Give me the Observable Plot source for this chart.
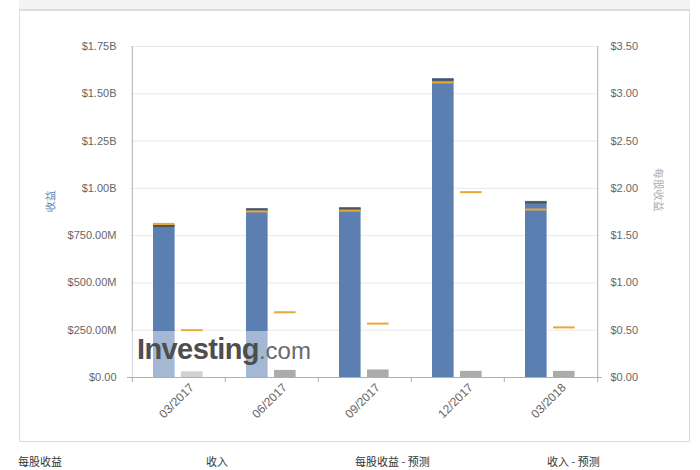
<!DOCTYPE html>
<html><head><meta charset="utf-8">
<script src="https://cdn.jsdelivr.net/npm/d3@7"></script>
<script src="https://cdn.jsdelivr.net/npm/@observablehq/plot@0.6"></script>
<style>
html,body{margin:0;padding:0;background:#fff;}
#wrap{position:relative;width:700px;height:470px;overflow:hidden;font-family:"Liberation Sans",Arial,sans-serif;}
#header{position:absolute;left:19px;top:0;width:671px;height:9px;background:#f3f3f3;border-bottom:2px solid #dcdcdc;}
#frame{position:absolute;left:19px;top:10px;width:669px;height:431px;border:1px solid #dcdcdc;border-top:none;}
#chart{position:absolute;left:0;top:0;}
#wm{position:absolute;left:128px;top:331px;width:142px;height:46px;background:rgba(255,255,255,0.45);}
#wmtext{position:absolute;left:137px;top:333px;white-space:nowrap;}
#wmtext .a{font:bold 29px "Liberation Sans",Arial,sans-serif;color:#4e4e4e;letter-spacing:-0.6px;}
#wmtext .b{font:24px "Liberation Sans",Arial,sans-serif;color:#6a6a6a;}
.leg{position:absolute;top:454px;font-size:11px;line-height:14px;color:#333;font-family:"Noto Sans CJK SC",sans-serif;}
</style></head>
<body><div id="wrap">
<div id="header"></div><div id="frame"></div>
<div id="chart"></div>
<div id="wm"></div>
<div id="wmtext"><span class="a">Investing</span><span class="b">.com</span></div>
</div>
<script>
const quarters = ["03/2017","06/2017","09/2017","12/2017","03/2018"];
const revenueActual = [0.806e9, 0.893e9, 0.898e9, 1.580e9, 0.931e9];
const revenueForecast = [0.812e9, 0.878e9, 0.882e9, 1.560e9, 0.888e9];
const epsActual = [0.06, 0.075, 0.08, 0.065, 0.065];
const epsForecast = [0.50, 0.69, 0.57, 1.96, 0.53];
const revTicks = [0, 0.25e9, 0.5e9, 0.75e9, 1.0e9, 1.25e9, 1.5e9, 1.75e9];
const revTickLabels = ["$0.00","$250.00M","$500.00M","$750.00M","$1.00B","$1.25B","$1.50B","$1.75B"];
const epsTickLabels = ["$0.00","$0.50","$1.00","$1.50","$2.00","$2.50","$3.00","$3.50"];
const legendLabels = ["每股收益","收入","每股收益 - 预测","收入 - 预测"];
const leftTitle = "收益";
const rightTitle = "每股收益";

const epsToRev = 1.75e9 / 3.5;
const rows = quarters.map((q, i) => ({q, ra: revenueActual[i], rf: revenueForecast[i], ea: epsActual[i] * epsToRev, ef: epsForecast[i] * epsToRev}));

const W = 700, H = 470, ML = 131, MR = 102, MT = 46, MB = 93;
const bw = (W - ML - MR) / quarters.length;
const axisCol = "#a7b0bc";
const txt = "#666";

const chart = Plot.plot({
  width: W, height: H,
  marginLeft: ML, marginRight: MR, marginTop: MT, marginBottom: MB,
  style: {fontFamily: "'Liberation Sans', Arial, sans-serif", fontSize: "11px", background: "transparent"},
  x: {type: "band", domain: quarters, padding: 0},
  y: {domain: [0, 1.75e9]},
  marks: [
    Plot.ruleY(revTicks.slice(1), {stroke: "#e9e9e9"}),
    Plot.barY(rows, {x: "q", y: "ra", fill: "#5a7fb0", insetLeft: 21, insetRight: bw - 43}),
    Plot.tickY(rows, {x: "q", y: "ra", stroke: "#4f5458", strokeWidth: 2, dy: 1, insetLeft: 21, insetRight: bw - 43}),
    Plot.tickY(rows, {x: "q", y: "rf", stroke: "#e8a838", strokeWidth: 2, insetLeft: 21, insetRight: bw - 43}),
    Plot.barY(rows, {x: "q", y: "ea", fill: "#ababab", insetLeft: 49, insetRight: bw - 71}),
    Plot.tickY(rows, {x: "q", y: "ef", stroke: "#e8a838", strokeWidth: 2, insetLeft: 49, insetRight: bw - 71}),
    Plot.ruleY([0], {stroke: axisCol, insetLeft: -4, insetRight: -4}),
    Plot.ruleX([quarters[0]], {dx: -bw / 2, y1: 0, y2: 1.75e9, stroke: axisCol}),
    Plot.ruleX([quarters[quarters.length - 1]], {dx: bw / 2, y1: 0, y2: 1.75e9, stroke: axisCol}),
    Plot.ruleX(quarters, {dx: -bw / 2, y1: 0, y2: 0, insetBottom: -5, stroke: axisCol}),
    Plot.ruleX([quarters[quarters.length - 1]], {dx: bw / 2, y1: 0, y2: 0, insetBottom: -5, stroke: axisCol}),
    Plot.axisY({ticks: revTicks, tickFormat: (d, i) => revTickLabels[i], tickSize: 0, tickPadding: 15, fill: txt, label: null}),
    Plot.axisY({anchor: "right", ticks: revTicks, tickFormat: (d, i) => epsTickLabels[i], tickSize: 0, tickPadding: 12, fill: txt, label: null}),
    Plot.axisX({tickRotate: -45, tickSize: 0, tickPadding: 8, dx: 13, fill: txt, label: null, fontSize: 12}),
    Plot.text([leftTitle], {frameAnchor: "left", dx: -81, rotate: -90, fill: "#5b82b8", fontSize: 11}),
    Plot.text([rightTitle], {frameAnchor: "right", dx: 60, rotate: 90, fill: "#aaaaaa", fontSize: 11})
  ]
});
document.getElementById("chart").appendChild(chart);
const xs = [18, 206, 355, 547];
legendLabels.forEach((t, i) => {
  const d = document.createElement("div");
  d.className = "leg"; d.style.left = xs[i] + "px"; d.textContent = t;
  document.getElementById("wrap").appendChild(d);
});
</script>
</body></html>
